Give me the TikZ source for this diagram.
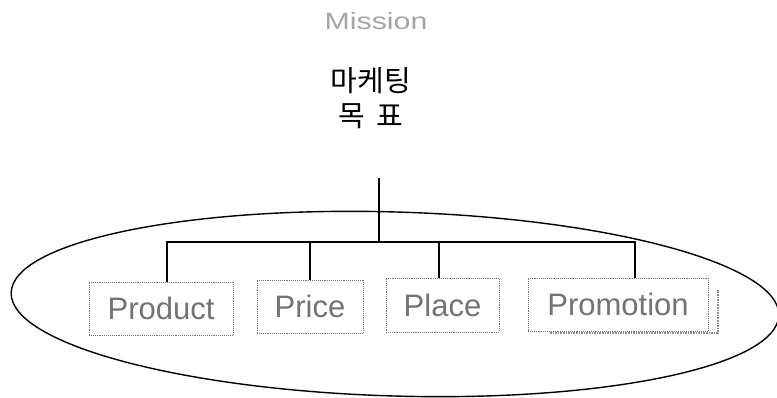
\documentclass[tikz,border=0pt]{standalone}
\usepackage{fontspec}
\setmainfont{Liberation Sans}
\newfontfamily\krfont{Noto Sans CJK KR}
\usepackage{graphicx}
\begin{document}
\begin{tikzpicture}[x=1pt,y=-1pt,
  boxstyle/.style={draw=black!55, densely dotted, line width=0.9pt, inner sep=0pt,
    text=black!55, font=\fontsize{31}{34}\selectfont},
  connector/.style={draw=black, line width=1.8pt},
  oval/.style={draw=black, line width=1.4pt},
  shadowline/.style={draw=black!45, densely dotted, line width=1.6pt}]
\useasboundingbox (0,0) rectangle (777,398);
\fill[white] (0,0) rectangle (777,398);

% titles
\node[text=black!35, font=\fontsize{23.5}{26}\selectfont] (mission) at (376,21) {\scalebox{1.29}[1]{Mission}};
\node[align=center, font=\krfont\fontsize{29}{35}\selectfont] (goal) at (371,98) {마케팅\\목\hspace{12pt}표};

% ellipse
\draw[oval, rotate around={-1.7:(395,304)}] (395,304) ellipse [x radius=384, y radius=92];

% boxes
\node[boxstyle, minimum width=144pt, minimum height=53pt] (prod) at (161,308.5) {Product};
\node[boxstyle, minimum width=106pt, minimum height=53pt] (price) at (310,306.5) {Price};
\node[boxstyle, minimum width=113pt, minimum height=54pt] (place) at (442.5,305) {Place};
\node[boxstyle, minimum width=180pt, minimum height=53pt] (promo) at (618,304.5) {Promotion};

% shadow of promotion box
\draw[shadowline] (550,333) -- (718,333) -- (718,290);

% connectors
\coordinate (top) at (379,178);
\coordinate (bar) at (379,242);
\coordinate (d1) at ([xshift=6pt]prod.north);
\coordinate (d2) at (price.north);
\coordinate (d3) at ([xshift=-3.5pt]place.north);
\coordinate (d4) at ([xshift=17pt]promo.north);
\draw[connector] (top) -- (bar);
\draw[connector] (d1) -- (d1 |- bar) -- (d4 |- bar) -- (d4);
\draw[connector] (d2) -- (d2 |- bar);
\draw[connector] (d3) -- (d3 |- bar);
\end{tikzpicture}
\end{document}
